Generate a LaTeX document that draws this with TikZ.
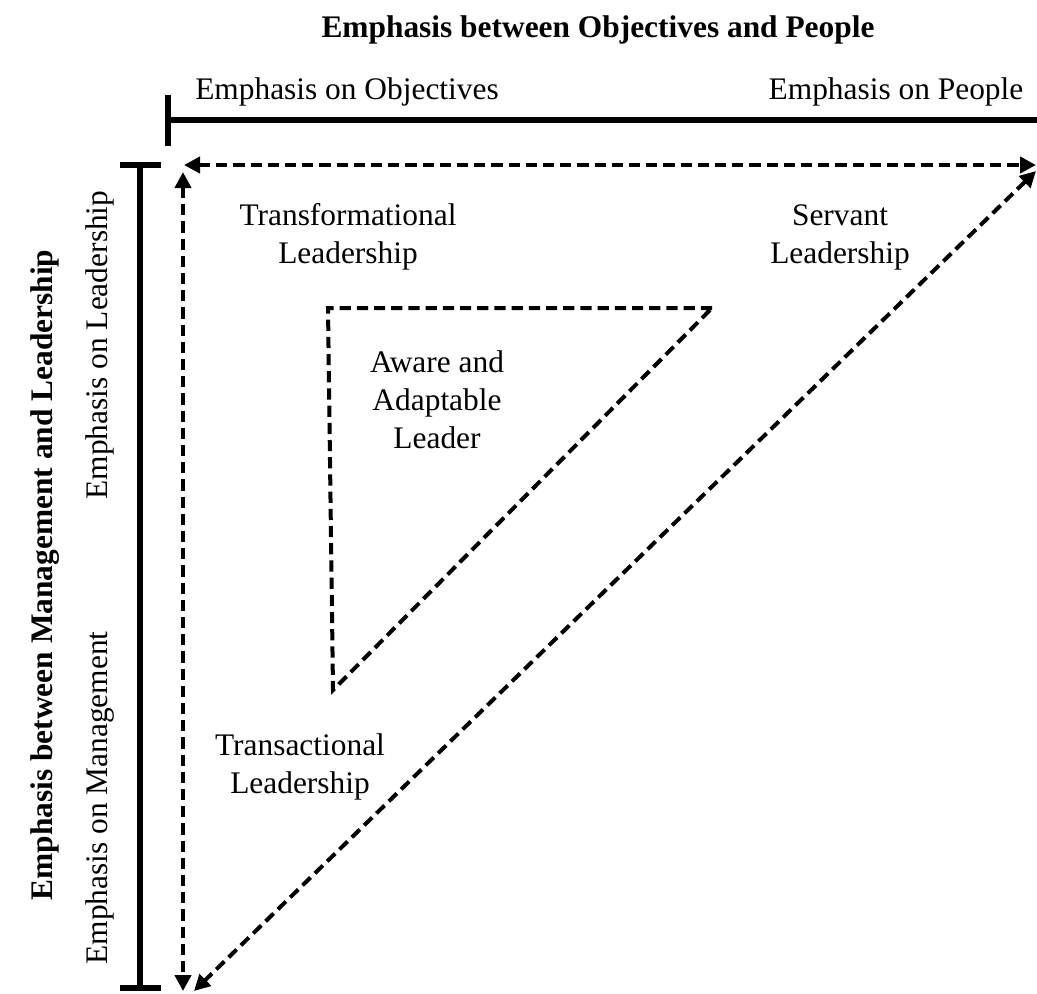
\documentclass[tikz,border=0pt]{standalone}
\usepackage{fontspec}
\setmainfont{Liberation Serif}
\usetikzlibrary{arrows.meta}
\begin{document}
\begin{tikzpicture}[
        x=0.5pt, y=-0.5pt,
        axis/.style = {
            draw,
            line width = 2.6pt},
        dline/.style = {
            draw,
            line width = 2pt,
            dash pattern = on 5.6pt off 3pt},
        arrow/.style = {
            dline,
            {Triangle[length=8pt,width=8pt]}-{Triangle[length=8pt,width=8pt]}},
        label/.style = {
            align = center,
            font = \fontsize{15.7}{19}\selectfont},
        heading/.style = {
            label,
            font = \fontsize{15.7}{19}\selectfont\bfseries}]
    \useasboundingbox (0,0) rectangle (1037,993);
    % Place nodes
    \node [heading] (toptitle) at (598,30) {Emphasis between Objectives and People};
    \node [heading, rotate=90] (lefttitle) at (45,575) {Emphasis between Management and Leadership};
    \node [label] (obj) at (347,92) {Emphasis on Objectives};
    \node [label] (ppl) at (896,92) {Emphasis on People};
    \node [label, rotate=90] (lead) at (100,345) {Emphasis on Leadership};
    \node [label, rotate=90] (mgmt) at (100,798) {Emphasis on Management};
    \node [label] (transf) at (348,237) {Transformational\\Leadership};
    \node [label] (servant) at (840,237) {Servant\\Leadership};
    \node [label] (aware) at (437,400) {Aware and\\Adaptable\\Leader};
    \node [label] (transa) at (300,767) {Transactional\\Leadership};

    % Axis ends
    \coordinate (xs) at (168,120);
    \coordinate (xe) at (1037,120);
    \coordinate (xt1) at (168,95);
    \coordinate (xt2) at (168,146);
    \coordinate (ys) at (140,165);
    \coordinate (ye) at (140,988);
    \coordinate (yt1) at (120,165);
    \coordinate (yt2) at (161,165);
    \coordinate (yb1) at (120,988);
    \coordinate (yb2) at (161,988);

    % Outer triangle ends
    \coordinate (hl) at (184,165);
    \coordinate (hr) at (1036,165);
    \coordinate (vt) at (183,172);
    \coordinate (vb) at (183,991);
    \coordinate (dt) at (1036,171);
    \coordinate (db) at (194,991);

    % Inner triangle
    \coordinate (itl) at (328,308);
    \coordinate (itr) at (712,308);
    \coordinate (ibl) at (333,690);

    % Draw edges
    \path [axis] (xs) -- (xe);
    \path [axis] (xt1) -- (xt2);
    \path [axis] (ys) -- (ye);
    \path [axis] (yt1) -- (yt2);
    \path [axis] (yb1) -- (yb2);
    \path [arrow] (hl) -- (hr);
    \path [arrow] (vt) -- (vb);
    \path [arrow] (dt) -- (db);
    \path [dline] (itr) -- (itl) -- (ibl) -- cycle;
\end{tikzpicture}
\end{document}
